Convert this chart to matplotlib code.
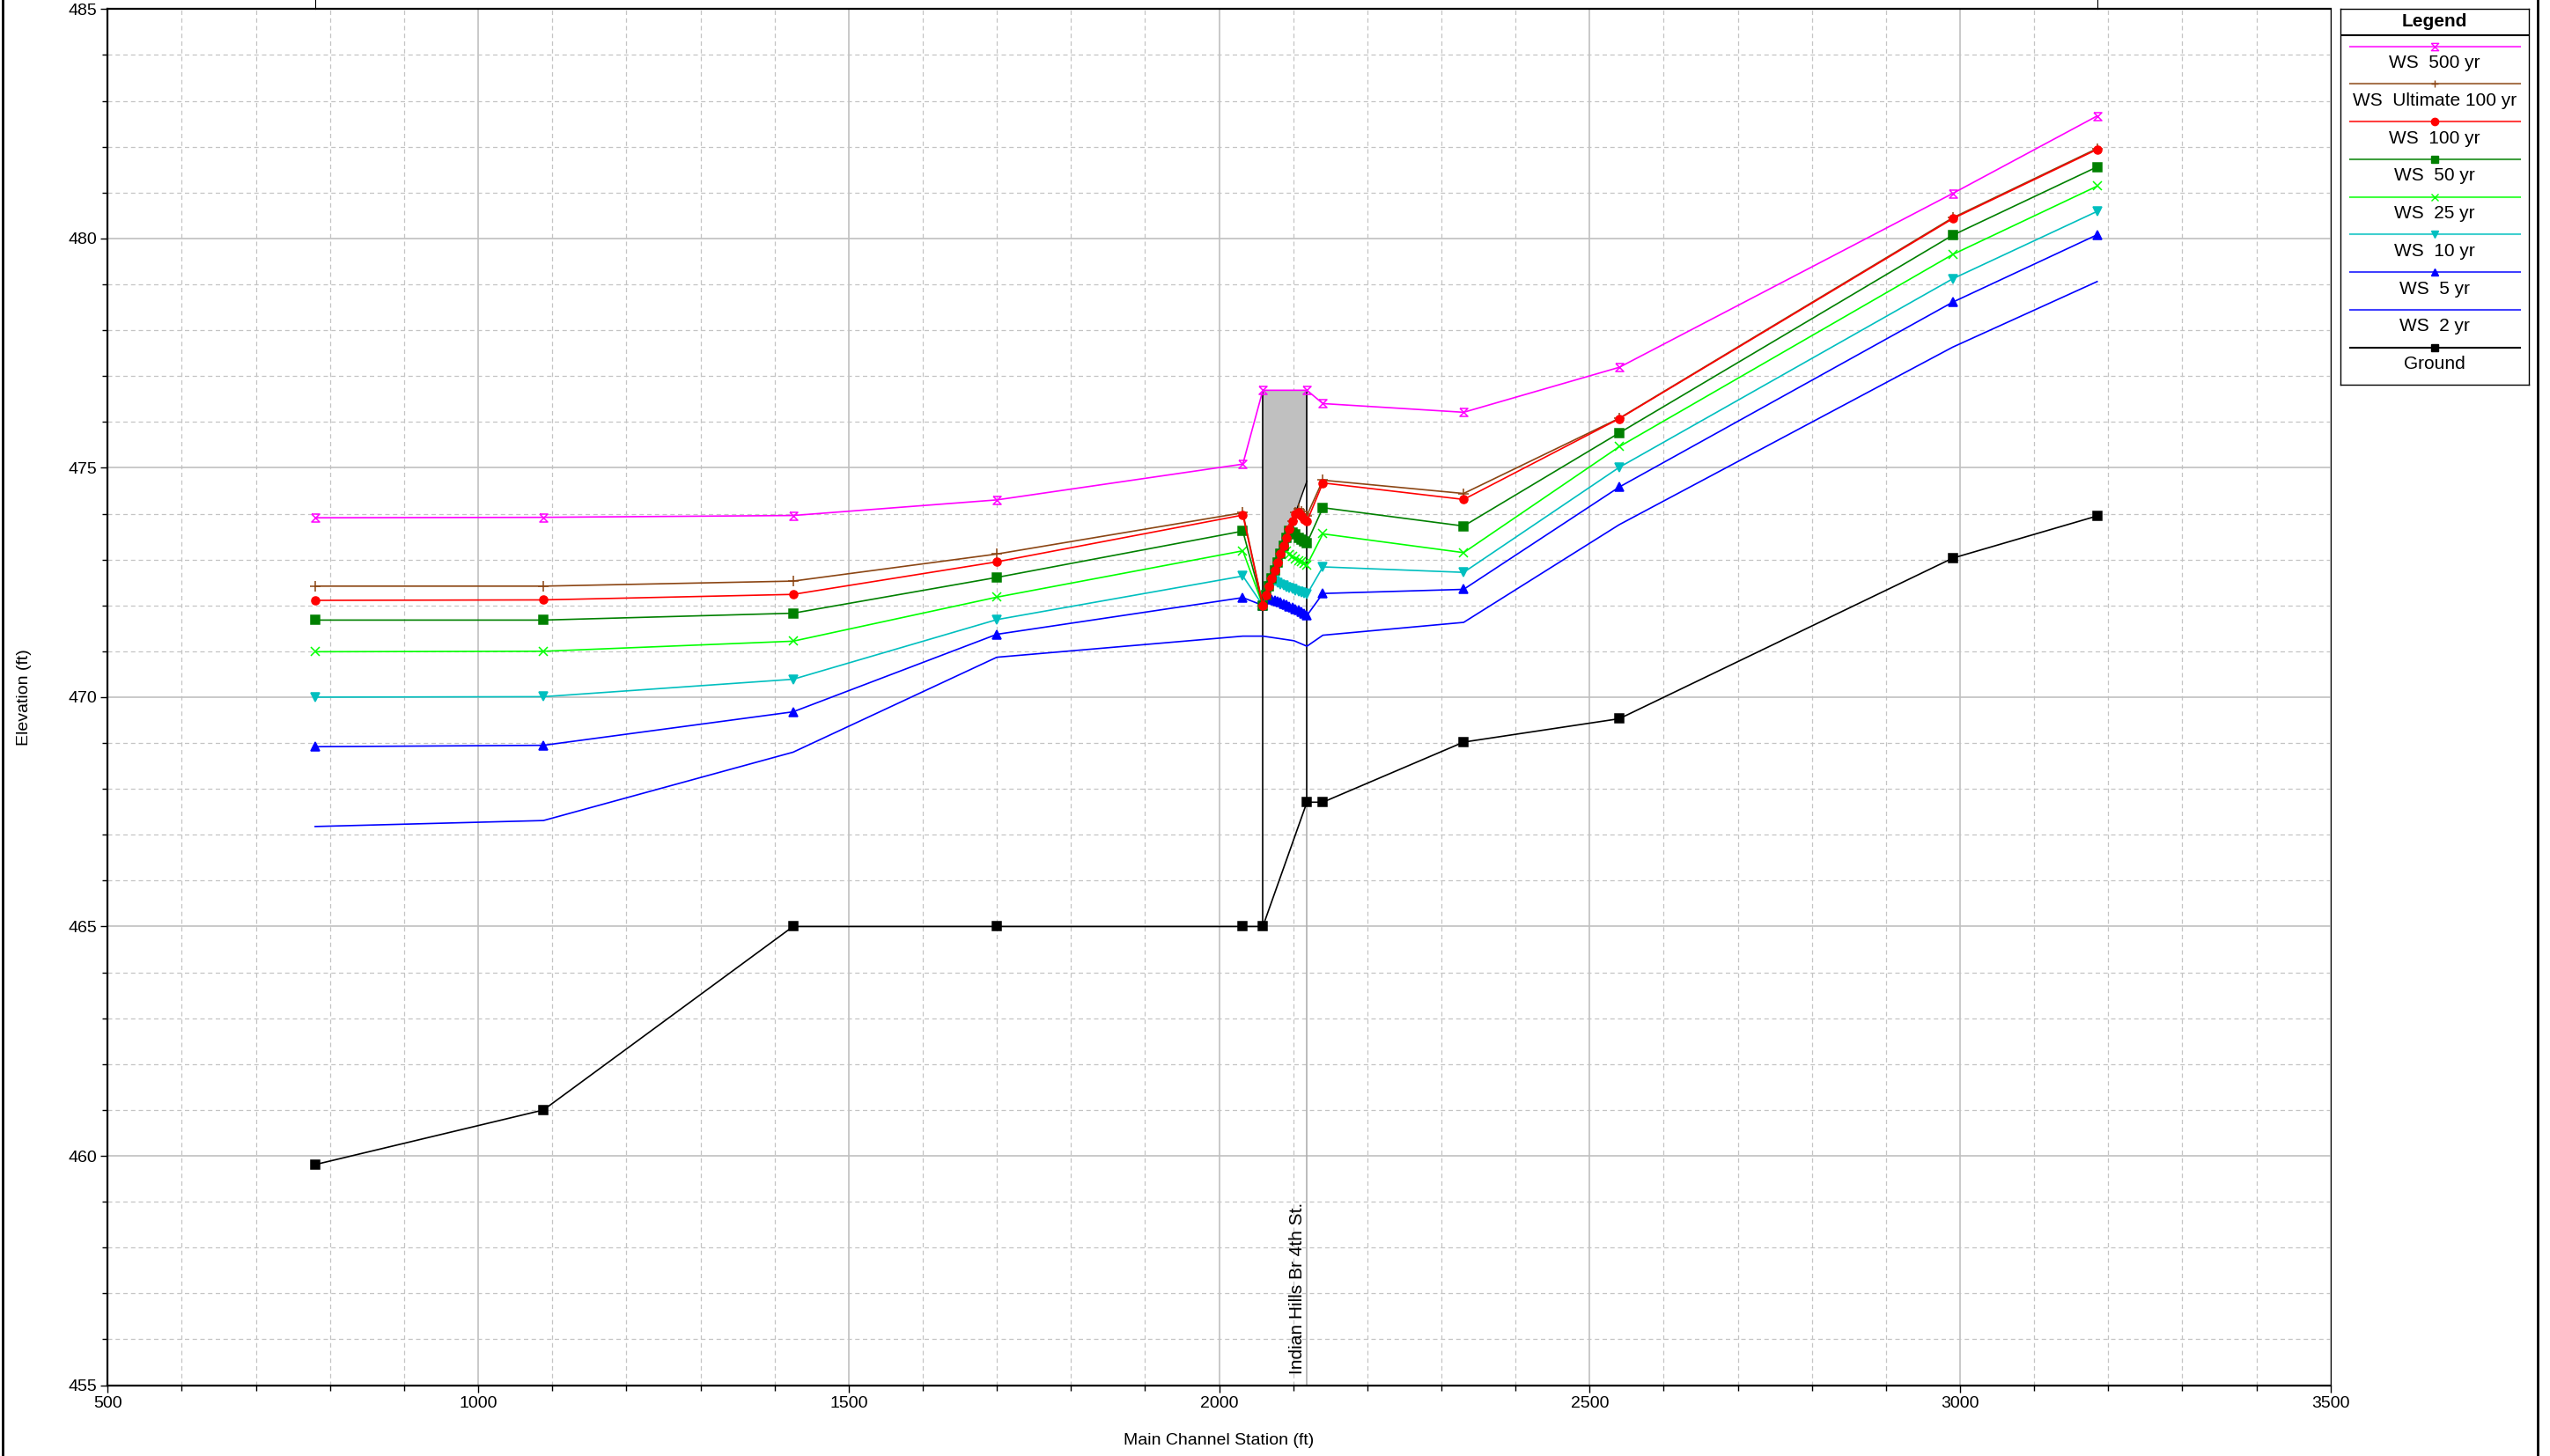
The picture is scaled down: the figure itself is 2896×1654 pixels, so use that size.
import matplotlib
matplotlib.use("Agg")
import matplotlib.pyplot as plt
from matplotlib.path import Path
from matplotlib.lines import Line2D
from matplotlib.ticker import MultipleLocator

plt.rcParams['font.family'] = ['Liberation Sans', 'DejaVu Sans']

###########################################################
### -------------------- DATA ------------------------------
###########################################################

# cross sections downstream / upstream of the bridge, and points through the bridge
xs_dn = [780, 1088, 1425, 1700, 2032]
bridge_sta = [2059, 2063, 2067, 2071, 2075, 2079, 2083, 2087, 2091, 2095,
              2099, 2103, 2107, 2111, 2115, 2118.5]
xs_up = [2140, 2330, 2540, 2990, 3185]
ws_sta = xs_dn + bridge_sta + xs_up

ws_ult100 = [472.42, 472.42, 472.53, 473.12, 474.02,
             472.00, 472.23, 472.41, 472.59, 472.77, 472.94, 473.12, 473.30,
             473.48, 473.66, 473.84, 474.02, 474.10, 474.05, 474.00, 473.96,
             474.73, 474.44, 476.08, 480.45, 481.96]
ws_100 = [472.11, 472.12, 472.24, 472.95, 473.97,
          472.00, 472.23, 472.41, 472.59, 472.77, 472.94, 473.12, 473.30,
          473.48, 473.66, 473.84, 474.00, 474.03, 473.95, 473.88, 473.83,
          474.67, 474.31, 476.07, 480.43, 481.94]
ws_50 = [471.68, 471.68, 471.83, 472.61, 473.62,
         472.00, 472.23, 472.41, 472.59, 472.77, 472.94, 473.12, 473.30,
         473.48, 473.62, 473.59, 473.54, 473.48, 473.43, 473.39, 473.36,
         474.13, 473.73, 475.76, 480.07, 481.56]
ws_25 = [470.99, 471.00, 471.22, 472.18, 473.19,
         472.00, 472.23, 472.41, 472.59, 472.77, 472.94, 473.12, 473.30,
         473.18, 473.10, 473.06, 473.02, 472.98, 472.95, 472.91, 472.88,
         473.56, 473.15, 475.46, 479.65, 481.14]
ws_10 = [470.00, 470.01, 470.39, 471.69, 472.64,
         472.00, 472.23, 472.41, 472.57, 472.53, 472.49, 472.46, 472.43,
         472.40, 472.38, 472.36, 472.33, 472.31, 472.29, 472.27, 472.24,
         472.84, 472.72, 475.01, 479.12, 480.59]
ws_5 = [468.92, 468.95, 469.68, 471.37, 472.17,
        472.00, 472.16, 472.15, 472.13, 472.11, 472.09, 472.07, 472.04,
        472.01, 471.98, 471.95, 471.92, 471.89, 471.86, 471.82, 471.78,
        472.26, 472.35, 474.58, 478.61, 480.08]

ws500_sta = [780, 1088, 1425, 1700, 2032, 2059, 2118.5, 2140, 2330, 2540, 2990, 3185]
ws_500 = [473.91, 473.92, 473.96, 474.30, 475.08, 476.69, 476.69, 476.40,
          476.21, 477.19, 480.98, 482.67]

ws2_sta = [780, 1088, 1425, 1700, 2032, 2059, 2101, 2118.5, 2140, 2330, 2540, 2990, 3185]
ws_2 = [467.18, 467.31, 468.80, 470.87, 471.33, 471.33, 471.23, 471.11,
        471.35, 471.63, 473.76, 477.63, 479.06]

ground_sta = [780, 1088, 1425, 1700, 2032, 2059, 2118.5, 2140, 2330, 2540, 2990, 3185]
ground = [459.81, 461.00, 465.00, 465.00, 465.00, 465.00, 467.71, 467.71,
          469.02, 469.53, 473.03, 473.95]

# bridge: faces, deck top, low chord
bridge_dn, bridge_up = 2059, 2118.5
deck_top = 476.69
low_chord = [472.05, 474.71]
bridge_label = 'Indian Hills Br 4th St.'

###########################################################
### -------------------- PLOT ------------------------------
###########################################################

W, H = 2896, 1654
fig = plt.figure(figsize=(W / 100, H / 100), dpi=100)
ax = fig.add_axes([122.3 / W, 1 - 1573.6 / H, (2646.8 - 122.3) / W, (1573.6 - 10.3) / H])

ax.set_xlim(500, 3500)
ax.set_ylim(455, 485)
ax.xaxis.set_major_locator(MultipleLocator(500))
ax.xaxis.set_minor_locator(MultipleLocator(100))
ax.yaxis.set_major_locator(MultipleLocator(5))
ax.yaxis.set_minor_locator(MultipleLocator(1))
ax.grid(which='major', color='#c0c0c0', lw=1.2, ls='-', zorder=0)
ax.grid(which='minor', color='#c4c4c4', lw=0.9, ls=(0, (4, 3)), zorder=0)
ax.set_axisbelow(True)
ax.tick_params(which='major', direction='out', length=6, width=1, labelsize=14, pad=3)
ax.tick_params(which='minor', direction='out', length=4, width=1)
for s in ['left', 'bottom', 'top']:
    ax.spines[s].set_linewidth(1.6)
ax.spines['right'].set_linewidth(0.8)

ax.set_xlabel('Main Channel Station (ft)', fontsize=14, labelpad=18)
ax.set_ylabel('Elevation (ft)', fontsize=14)
ax.yaxis.set_label_coords(-0.034, 0.5)

hourglass = Path([(-1, 1), (1, 1), (-1, -1), (1, -1), (-1, 1)],
                 [Path.MOVETO, Path.LINETO, Path.LINETO, Path.LINETO, Path.LINETO])

# bridge deck
ax.fill([bridge_dn, bridge_up, bridge_up, bridge_dn],
        [deck_top, deck_top, low_chord[1], low_chord[0]],
        facecolor='#c0c0c0', edgecolor='none', zorder=2)
ax.plot([bridge_dn, bridge_up], low_chord, color='black', lw=1.0, zorder=2)
ax.plot([bridge_dn, bridge_dn], [ground[5], deck_top], color='black', lw=1.2, zorder=2)
ax.plot([bridge_up, bridge_up], [ground[6], deck_top], color='black', lw=1.2, zorder=2)
ax.plot([bridge_up, bridge_up], [455, ground[6]], color='#b0b0b0', lw=1.2, zorder=1)
ax.text(bridge_up - 1, 455.25, bridge_label, rotation=90, ha='right', va='bottom',
        fontsize=15, zorder=4)

# little ticks above the plot at the first / last section
for st in [ground_sta[0], ground_sta[-1]]:
    ax.plot([st, st], [1, 1.008], color='black', lw=0.8,
            transform=ax.get_xaxis_transform(), clip_on=False)

series = [
    # label, x, y, color, marker, filled
    ('WS  500 yr', ws500_sta, ws_500, '#ff00ff', hourglass, False),
    ('WS  Ultimate 100 yr', ws_sta, ws_ult100, '#8b4513', '+', False),
    ('WS  100 yr', ws_sta, ws_100, '#ff0000', 'o', True),
    ('WS  50 yr', ws_sta, ws_50, '#008000', 's', True),
    ('WS  25 yr', ws_sta, ws_25, '#00ff00', 'x', False),
    ('WS  10 yr', ws_sta, ws_10, '#00bfbf', 'v', True),
    ('WS  5 yr', ws_sta, ws_5, '#0000ff', '^', True),
    ('WS  2 yr', ws2_sta, ws_2, '#0000ff', None, True),
    ('Ground', ground_sta, ground, '#000000', 's', True),
]

zo = {'Ground': 3, 'WS  2 yr': 4, 'WS  5 yr': 5, 'WS  10 yr': 6, 'WS  25 yr': 7,
      'WS  50 yr': 8, 'WS  Ultimate 100 yr': 9, 'WS  100 yr': 10, 'WS  500 yr': 11}

for label, x, y, color, marker, filled in series:
    ms = 6.5 if marker != '+' else 9
    ax.plot(x, y, color=color, lw=1.2, marker=marker, markersize=ms,
            markerfacecolor=color if filled else 'none', markeredgecolor=color,
            markeredgewidth=1.1, zorder=zo[label])

# legend box drawn by hand (pixel units)
lax = fig.add_axes([2658 / W, 1 - 437 / H, 214 / W, 427 / H])
lax.set_xlim(0, 214)
lax.set_ylim(427, 0)
lax.set_xticks([])
lax.set_yticks([])
for s in lax.spines.values():
    s.set_linewidth(1.0)
lax.text(107, 14, 'Legend', ha='center', va='center', fontsize=15, fontweight='bold')
lax.plot([0, 214], [30, 30], color='black', lw=1.5)
for i, (label, x, y, color, marker, filled) in enumerate(series):
    ly = 42.7 + i * 42.75
    lax.plot([11, 204], [ly, ly], color=color, lw=1.5, alpha=0.75 if color != '#000000' else 1)
    if marker is not None:
        lax.plot([107], [ly], color=color, marker=marker, markersize=6,
                 markerfacecolor=color if filled else 'none', markeredgecolor=color)
    lax.text(107, ly + 19, label, ha='center', va='center', fontsize=15)

# outer frame lines of the original window
fig.add_artist(Line2D([3 / W, 3 / W], [0, 1], color='black', lw=2))
fig.add_artist(Line2D([2882 / W, 2882 / W], [0, 1], color='black', lw=2))

plt.savefig('out.png', dpi=100)
